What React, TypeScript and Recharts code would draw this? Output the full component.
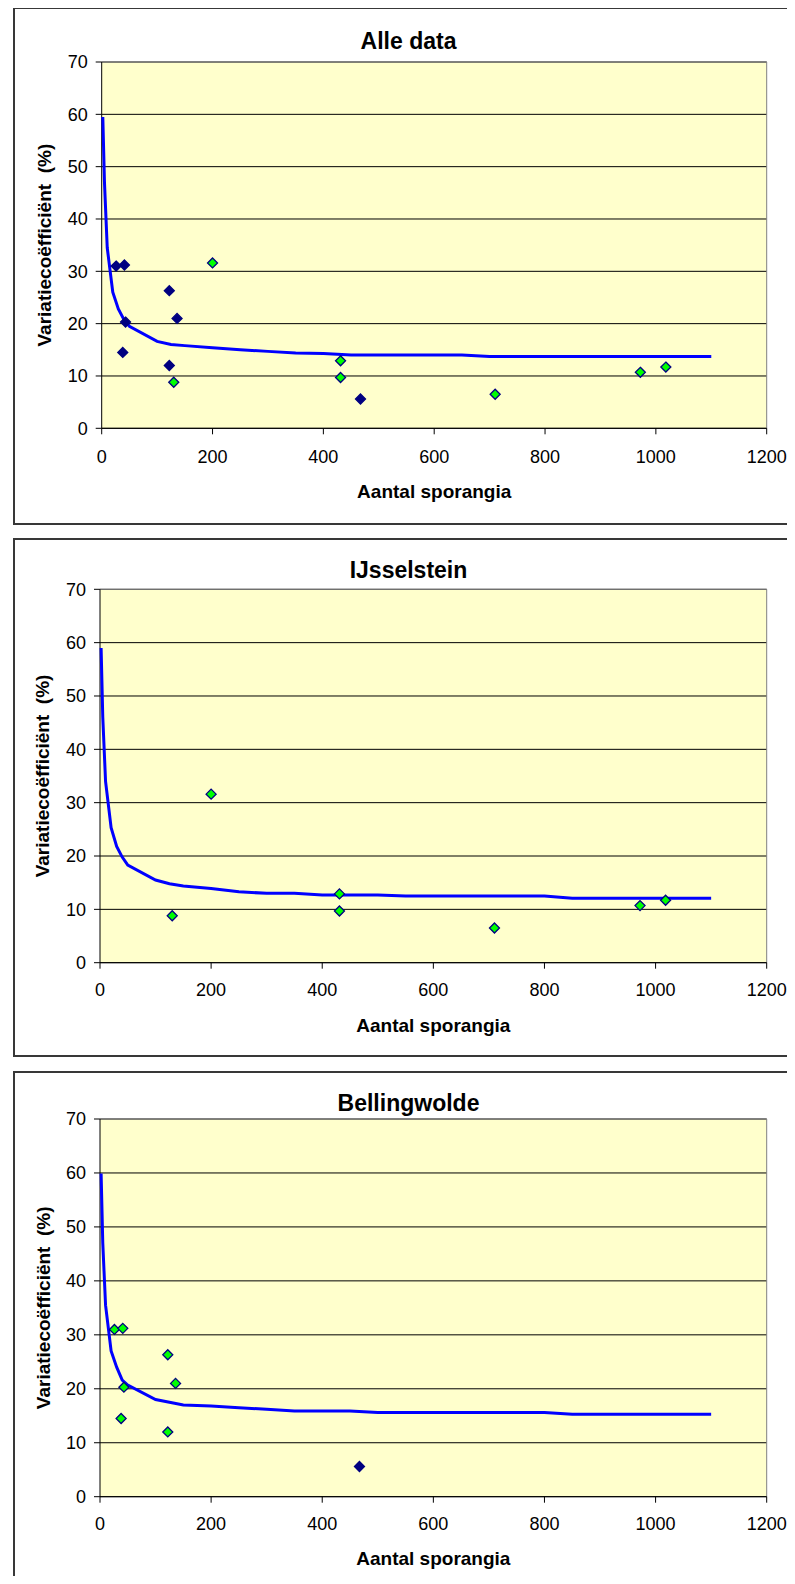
import {
  ScatterChart,
  Scatter,
  XAxis,
  YAxis,
  CartesianGrid,
  ReferenceLine,
  Label,
} from "recharts";

const FONT = "'Liberation Sans', Arial, sans-serif";

// x positions of the fitted curve (aantal sporangia)
const curveX = [
  2, 5, 10, 20, 30, 40, 50, 100, 125, 150, 200, 250, 300, 350, 400, 450, 500,
  550, 600, 650, 700, 750, 800, 850, 900, 950, 1000, 1050, 1100,
];

// fitted curves (variatiecoefficient %)
const curveAlle = [
  59.5, 47.0, 34.5, 26.0, 22.8, 20.8, 19.5, 16.6, 16.0, 15.8, 15.4, 15.0, 14.7,
  14.4, 14.3, 14.0, 14.0, 14.0, 14.0, 14.0, 13.7, 13.7, 13.7, 13.7, 13.7, 13.7,
  13.7, 13.7, 13.7,
];
const curveIJs = [
  59.0, 46.0, 34.0, 25.3, 21.8, 19.8, 18.3, 15.5, 14.8, 14.4, 13.9, 13.3, 13.0,
  13.0, 12.7, 12.7, 12.7, 12.5, 12.5, 12.5, 12.5, 12.5, 12.5, 12.1, 12.1, 12.1,
  12.1, 12.1, 12.1,
];
const curveBell = [
  59.9, 47.0, 35.5, 27.0, 24.0, 21.6, 20.7, 18.0, 17.5, 17.0, 16.8, 16.5, 16.2,
  15.9, 15.9, 15.9, 15.6, 15.6, 15.6, 15.6, 15.6, 15.6, 15.6, 15.3, 15.3, 15.3,
  15.3, 15.3, 15.3,
];

// measurements Bellingwolde
const bellX = [26, 41, 43, 38, 122, 136, 122];
const bellY = [31.0, 31.2, 20.3, 14.5, 26.3, 21.0, 12.0];
const outlierX = [467];
const outlierY = [5.6];

// measurements IJsselstein
const ijsX = [130, 200, 431, 431, 710, 972, 1018];
const ijsY = [8.8, 31.6, 12.9, 9.7, 6.5, 10.7, 11.7];

const xTicks = [0, 200, 400, 600, 800, 1000, 1200];
const yTicks = [0, 10, 20, 30, 40, 50, 60, 70];

const toPoints = (xs: number[], ys: number[]) =>
  xs.map((x, i) => ({ x, y: ys[i] }));

const NAVY = "#000080";
const GREEN = "#00FF00";

const diamond = (fill: string) => (props: any) => {
  const { cx, cy } = props;
  const r = 5;
  return (
    <polygon
      points={`${cx},${cy - r} ${cx + r},${cy} ${cx},${cy + r} ${cx - r},${cy}`}
      fill={fill}
      stroke={NAVY}
      strokeWidth={1.3}
    />
  );
};

const NoDot = () => <g />;

interface PanelProps {
  title: string;
  boxTop: number;
  boxHeight: number;
  chartHeight: number;
  plotTop: number;
  plotBottom: number;
  plotLeft: number;
  xAxisHeight: number;
  tickMargin: number;
  yLabelX: number;
  titleTop: number;
  curve: number[];
  navy: { x: number; y: number }[];
  green: { x: number; y: number }[];
}

const Panel = (p: PanelProps) => {
  const top = p.plotTop - p.boxTop;
  const bottom = p.chartHeight - (p.plotBottom - p.boxTop) - p.xAxisHeight;
  return (
    <>
      <div
        style={{
          position: "absolute",
          left: 13,
          top: p.boxTop,
          width: 800,
          height: p.boxHeight,
          border: "2px solid #383838",
          boxSizing: "border-box",
        }}
      />
      <div
        style={{
          position: "absolute",
          left: 13,
          width: 791,
          top: p.titleTop,
          textAlign: "center",
          fontFamily: FONT,
          fontWeight: "bold",
          fontSize: 23,
          lineHeight: "23px",
        }}
      >
        {p.title}
      </div>
      <div style={{ position: "absolute", left: 0, top: p.boxTop }}>
        <ScatterChart
          width={795}
          height={p.chartHeight}
          margin={{ top, right: 28.3, bottom, left: 0 }}
        >
          <CartesianGrid vertical={false} stroke="#000" fill="#FFFFCC" />
          <XAxis
            type="number"
            dataKey="x"
            domain={[0, 1200]}
            ticks={xTicks}
            height={p.xAxisHeight}
            tickSize={6}
            tickMargin={p.tickMargin}
            axisLine={{ stroke: "#000" }}
            tickLine={{ stroke: "#000" }}
            tick={{ fill: "#000", fontSize: 18, fontFamily: FONT }}
          >
            <Label
              value="Aantal sporangia"
              position="insideBottom"
              offset={0}
              style={{
                fontFamily: FONT,
                fontWeight: "bold",
                fontSize: 19,
                fill: "#000",
              }}
            />
          </XAxis>
          <YAxis
            type="number"
            dataKey="y"
            domain={[0, 70]}
            ticks={yTicks}
            width={p.plotLeft}
            tickSize={6}
            tickMargin={8}
            axisLine={{ stroke: "#000" }}
            tickLine={{ stroke: "#000" }}
            tick={{ fill: "#000", fontSize: 18, fontFamily: FONT }}
          >
            <Label
              value={"Variatiecoëfficiënt\u00a0 (%)"}
              angle={-90}
              position="insideLeft"
              offset={p.yLabelX}
              style={{
                textAnchor: "middle",
                fontFamily: FONT,
                fontWeight: "bold",
                fontSize: 19,
                fill: "#000",
              }}
            />
          </YAxis>
          <ReferenceLine y={70} stroke="#808080" />
          <ReferenceLine x={1200} stroke="#808080" />
          <Scatter
            data={toPoints(curveX, p.curve)}
            line={{ stroke: "#0000FF", strokeWidth: 3 }}
            shape={NoDot}
            isAnimationActive={false}
          />
          {p.navy.length > 0 && (
            <Scatter
              data={p.navy}
              shape={diamond(NAVY)}
              isAnimationActive={false}
            />
          )}
          {p.green.length > 0 && (
            <Scatter
              data={p.green}
              shape={diamond(GREEN)}
              isAnimationActive={false}
            />
          )}
        </ScatterChart>
      </div>
    </>
  );
};

export default function App() {
  return (
    <div
      style={{
        position: "relative",
        width: 795,
        height: 1584,
        margin: -8,
        overflow: "hidden",
        background: "#fff",
      }}
    >
      <Panel
        title="Alle data"
        boxTop={7}
        boxHeight={518}
        chartHeight={518}
        plotTop={62}
        plotBottom={428.3}
        plotLeft={101.7}
        xAxisHeight={70}
        tickMargin={16}
        yLabelX={44}
        titleTop={30}
        curve={curveAlle}
        navy={[...toPoints(bellX, bellY), ...toPoints(outlierX, outlierY)]}
        green={toPoints(ijsX, ijsY)}
      />
      <Panel
        title="IJsselstein"
        boxTop={538}
        boxHeight={519}
        chartHeight={519}
        plotTop={589.3}
        plotBottom={962.7}
        plotLeft={100}
        xAxisHeight={69}
        tickMargin={15}
        yLabelX={42}
        titleTop={558.5}
        curve={curveIJs}
        navy={[]}
        green={toPoints(ijsX, ijsY)}
      />
      <Panel
        title="Bellingwolde"
        boxTop={1071}
        boxHeight={540}
        chartHeight={513}
        plotTop={1119}
        plotBottom={1496.7}
        plotLeft={100}
        xAxisHeight={68}
        tickMargin={15}
        yLabelX={43}
        titleTop={1091.5}
        curve={curveBell}
        navy={toPoints(outlierX, outlierY)}
        green={toPoints(bellX, bellY)}
      />
    </div>
  );
}
